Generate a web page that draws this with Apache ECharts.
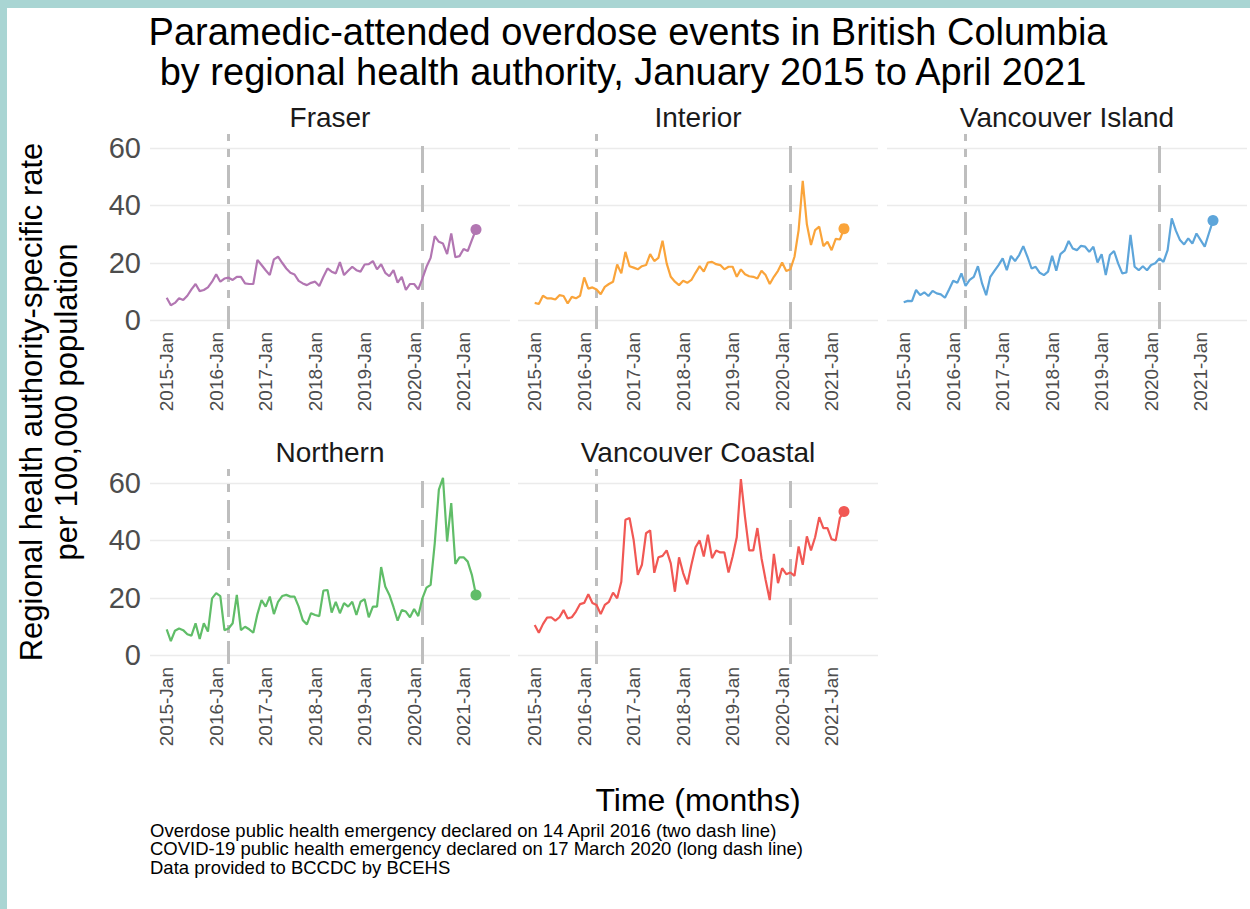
<!DOCTYPE html>
<html>
<head>
<meta charset="utf-8">
<title>Paramedic-attended overdose events in British Columbia</title>
<script src="https://cdn.jsdelivr.net/npm/echarts@6.0.0/dist/echarts.min.js"></script>
<style>
  html, body { margin: 0; padding: 0; background: #fff; }
  #chart { width: 1250px; height: 909px; }
</style>
</head>
<body>
<div id="chart"></div>
<script>
// month index 0 = 2015-Jan ... 75 = 2021-Apr
const tickPos = [0, 12, 24, 36, 48, 60, 72];
const tickLabels = ['2015-Jan', '2016-Jan', '2017-Jan', '2018-Jan', '2019-Jan', '2020-Jan', '2021-Jan'];
const yTicks = [0, 20, 40, 60];
const overdoseEmergency = 15; // 2016-Apr
const covidEmergency = 62;    // 2020-Mar

const regions = ['Fraser', 'Interior', 'Vancouver Island', 'Northern', 'Vancouver Coastal'];
const colors = ['#b276b2', '#faa43a', '#5da5da', '#60bd68', '#f15854'];

const fraser = [7.8, 5.2, 6.0, 7.6, 7.0, 8.5, 10.7, 12.6, 10.1, 10.5,
  11.4, 13.4, 16.0, 13.4, 14.5, 14.8, 14.0, 15.1, 15.1, 12.8,
  12.6, 12.6, 21.0, 19.2, 17.4, 15.7, 21.2, 22.1, 20.0, 18.0,
  16.5, 15.9, 13.7, 12.8, 12.2, 13.0, 13.4, 11.9, 15.1, 18.0,
  16.9, 16.3, 20.2, 15.7, 17.2, 18.6, 17.4, 16.9, 19.4, 19.5,
  20.6, 17.7, 19.5, 16.5, 15.3, 17.4, 13.1, 15.1, 10.5, 12.6,
  12.6, 10.7, 14.5, 18.6, 21.7, 29.3, 27.3, 26.7, 23.0, 30.2,
  21.9, 22.3, 24.8, 24.1, 27.9, 31.6];
const interior = [6.0, 5.6, 8.5, 7.6, 7.6, 7.2, 8.7, 8.4, 5.8, 8.1,
  7.6, 8.5, 14.9, 11.0, 11.4, 10.7, 9.0, 11.6, 12.6, 13.4,
  19.4, 16.3, 23.8, 18.8, 18.3, 17.7, 18.8, 19.2, 23.0, 20.6,
  21.7, 27.7, 19.8, 15.1, 13.4, 12.2, 13.7, 13.0, 14.0, 16.5,
  18.8, 16.9, 20.1, 20.3, 19.5, 19.2, 17.7, 18.6, 18.6, 15.1,
  17.7, 16.0, 15.3, 15.1, 14.5, 17.2, 15.7, 12.6, 15.1, 17.2,
  20.1, 17.1, 17.7, 22.1, 31.4, 48.6, 33.4, 26.2, 31.4, 32.6,
  25.8, 27.3, 24.4, 28.3, 28.1, 31.9];
const vanIsland = [6.2, 6.7, 6.6, 10.5, 8.7, 9.7, 8.4, 10.2, 9.3, 9.0,
  7.8, 10.7, 13.7, 13.0, 16.3, 11.9, 14.0, 15.1, 18.8, 12.8,
  8.7, 15.1, 17.2, 19.2, 21.5, 17.4, 22.4, 20.6, 22.7, 25.8,
  22.1, 18.0, 18.6, 16.5, 15.7, 16.9, 22.4, 17.2, 23.0, 24.2,
  27.6, 25.0, 24.4, 25.9, 25.6, 23.8, 25.6, 20.1, 23.0, 15.7,
  22.7, 24.1, 19.8, 16.3, 16.6, 29.7, 18.6, 17.4, 18.8, 17.4,
  19.2, 19.8, 21.5, 20.3, 24.4, 35.5, 31.2, 27.9, 26.4, 28.5,
  26.7, 30.2, 27.9, 25.6, 30.2, 34.7];
const northern = [9.0, 4.9, 8.5, 9.3, 8.7, 7.3, 6.8, 11.1, 5.6, 11.1,
  8.2, 19.8, 21.6, 20.6, 8.7, 9.3, 11.1, 21.0, 8.7, 9.9,
  9.0, 7.8, 14.3, 19.2, 16.9, 20.4, 14.3, 18.6, 20.6, 21.0,
  20.4, 20.4, 16.9, 12.2, 10.7, 14.6, 14.0, 13.6, 22.5, 22.7,
  14.8, 18.6, 14.6, 18.1, 16.9, 18.6, 14.0, 18.6, 19.5, 13.2,
  16.9, 16.9, 30.7, 23.9, 21.0, 16.7, 12.0, 15.7, 15.2, 13.2,
  16.1, 13.6, 19.8, 23.5, 24.5, 39.0, 57.7, 61.8, 39.6, 53.0,
  31.8, 34.1, 34.1, 32.6, 28.0, 21.0];
const coastal = [10.5, 7.8, 10.8, 13.1, 13.2, 12.0, 13.2, 15.7, 12.8, 13.2,
  15.2, 17.8, 18.2, 21.2, 18.2, 17.5, 14.3, 17.5, 18.6, 21.8,
  19.8, 25.6, 47.2, 47.8, 40.1, 28.0, 31.5, 42.5, 43.5, 28.7,
  34.1, 34.6, 36.5, 32.0, 22.1, 34.1, 28.6, 24.7, 31.5, 37.6,
  40.0, 34.4, 42.0, 33.8, 36.5, 35.8, 35.8, 28.8, 34.4, 41.1,
  61.4, 48.1, 36.5, 36.5, 44.3, 33.8, 26.2, 19.2, 35.3, 25.1,
  30.3, 28.2, 28.8, 27.6, 37.9, 31.5, 41.4, 36.5, 41.1, 48.1,
  44.3, 44.3, 40.4, 40.0, 47.8, 50.1];

const seriesValues = [fraser, interior, vanIsland, northern, coastal];

const FONT = '"Liberation Sans", Arial, sans-serif';
const panels = [
  { left: 150, top: 134 },
  { left: 518, top: 134 },
  { left: 887, top: 134 },
  { left: 150, top: 469 },
  { left: 518, top: 469 }
];
const panelW = 360, panelH = 195;

const chart = echarts.init(document.getElementById('chart'), null, { renderer: 'svg' });

const grids = [], xAxes = [], yAxes = [], series = [], texts = [];

panels.forEach((p, k) => {
  grids.push({ left: p.left, top: p.top, width: panelW, height: panelH, containLabel: false });

  xAxes.push({
    type: 'value', gridIndex: k, min: -4.05, max: 83.25,
    axisLine: { show: false }, axisTick: { show: false }, splitLine: { show: false },
    axisLabel: {
      customValues: tickPos, rotate: 90, margin: 3,
      fontFamily: FONT, fontSize: 19, color: '#4d4d4d',
      formatter: v => tickLabels[tickPos.indexOf(Math.round(v))] || ''
    }
  });

  yAxes.push({
    type: 'value', gridIndex: k, min: -3.1, max: 64.9,
    axisLine: { show: false },
    axisTick: { show: false, customValues: yTicks },
    axisLabel: {
      show: k === 0 || k === 3, customValues: yTicks, margin: 9,
      fontFamily: FONT, fontSize: 29, color: '#4d4d4d'
    },
    splitLine: { show: true, lineStyle: { color: '#ebebeb', width: 1.3 } }
  });

  const vals = seriesValues[k];
  series.push({
    type: 'line', name: regions[k], xAxisIndex: k, yAxisIndex: k,
    data: vals.map((v, i) => [i, v]),
    lineStyle: { color: colors[k], width: 2.2 },
    itemStyle: { color: colors[k] },
    symbol: 'circle',
    showSymbol: true,
    symbolSize: (val, params) => params.dataIndex === vals.length - 1 ? 11 : 0,
    animation: false,
    z: 3,
    markLine: {
      silent: true, symbol: 'none', label: { show: false },
      animation: false, z: 2,
      data: [
        { xAxis: overdoseEmergency, lineStyle: { color: '#bebebe', width: 3, type: [23, 8, 8, 8] } },
        { xAxis: covidEmergency, lineStyle: { color: '#bebebe', width: 3, type: [27, 12] } }
      ]
    }
  });

  texts.push({
    type: 'text', x: p.left + panelW / 2, y: p.top - 17,
    style: { text: regions[k], font: '28px ' + FONT, fill: '#1a1a1a', textAlign: 'center', textVerticalAlign: 'middle' }
  });
});

const captionLines = [
  'Overdose public health emergency declared on 14 April 2016 (two dash line)',
  'COVID-19 public health emergency declared on 17 March 2020 (long dash line)',
  'Data provided to BCCDC by BCEHS'
];

const option = {
  backgroundColor: '#ffffff',
  animation: false,
  grid: grids,
  xAxis: xAxes,
  yAxis: yAxes,
  series: series,
  graphic: [
    { type: 'rect', shape: { x: 0, y: 0, width: 1250, height: 8 }, style: { fill: '#a9d5d3' } },
    { type: 'rect', shape: { x: 0, y: 0, width: 7, height: 909 }, style: { fill: '#a9d5d3' } },
    {
      type: 'text', x: 628, y: 32,
      style: { text: 'Paramedic-attended overdose events in British Columbia', font: '38px ' + FONT, fill: '#000', textAlign: 'center', textVerticalAlign: 'middle' }
    },
    {
      type: 'text', x: 623, y: 72,
      style: { text: 'by regional health authority, January 2015 to April 2021', font: '38px ' + FONT, fill: '#000', textAlign: 'center', textVerticalAlign: 'middle' }
    },
    {
      type: 'text', x: 31, y: 402, rotation: Math.PI / 2,
      style: { text: 'Regional health authority-specific rate', font: '31px ' + FONT, fill: '#000', textAlign: 'center', textVerticalAlign: 'middle' }
    },
    {
      type: 'text', x: 66, y: 402, rotation: Math.PI / 2,
      style: { text: 'per 100,000 population', font: '31px ' + FONT, fill: '#000', textAlign: 'center', textVerticalAlign: 'middle' }
    },
    {
      type: 'text', x: 698, y: 800,
      style: { text: 'Time (months)', font: '32px ' + FONT, fill: '#000', textAlign: 'center', textVerticalAlign: 'middle' }
    }
  ].concat(captionLines.map((t, i) => ({
    type: 'text', x: 150, y: 830 + i * 18.5,
    style: { text: t, font: '18.5px ' + FONT, fill: '#000', textAlign: 'left', textVerticalAlign: 'middle' }
  }))).concat(texts)
};

chart.setOption(option);
</script>
</body>
</html>
